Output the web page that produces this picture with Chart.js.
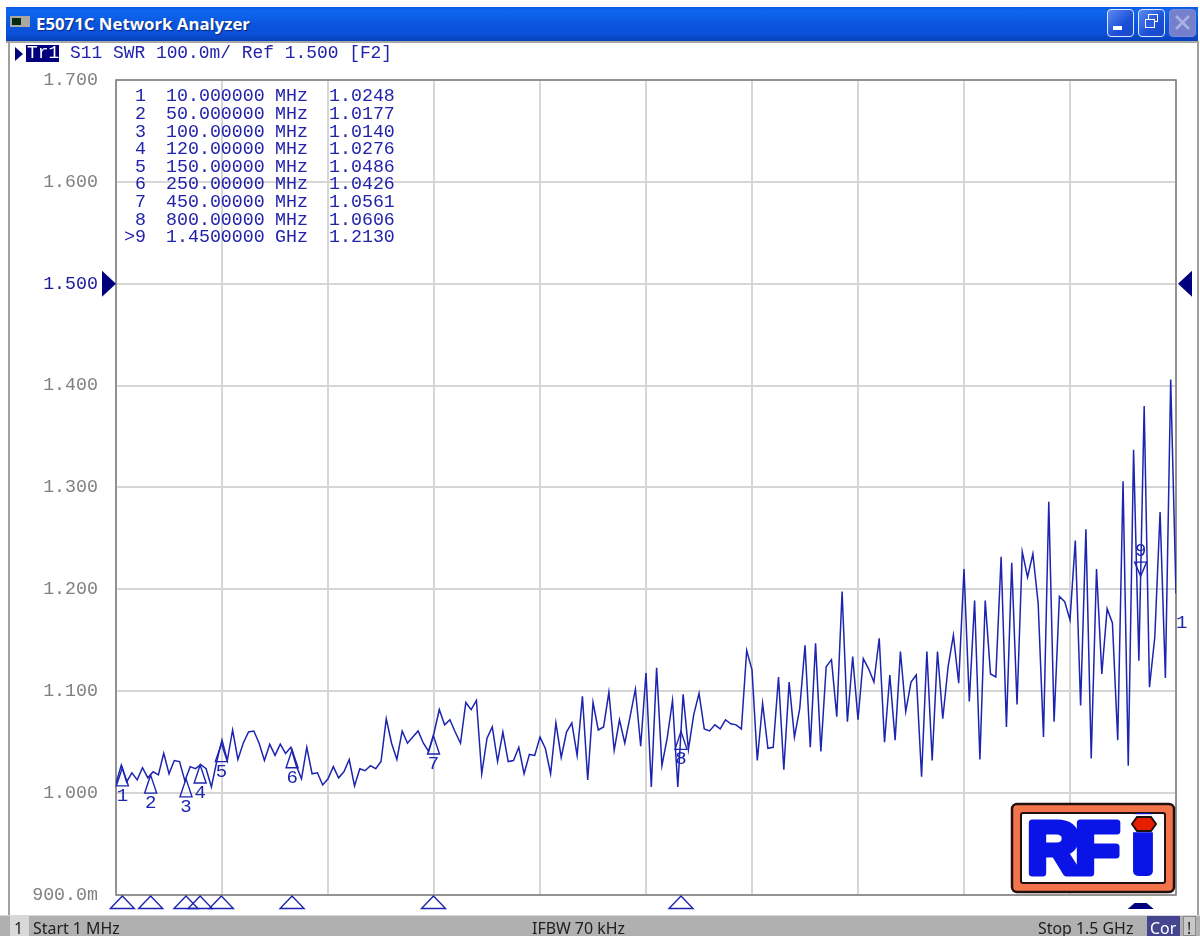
<!DOCTYPE html>
<html>
<head>
<meta charset="utf-8">
<title>E5071C Network Analyzer</title>
<script src="https://cdn.jsdelivr.net/npm/chart.js@4"></script>
<style>
html, body { margin: 0; padding: 0; background: #fff; overflow: hidden; }
#page { position: relative; width: 1200px; height: 936px; overflow: hidden; filter: blur(0.4px); }
#page div, #page span { position: absolute; white-space: pre; }
canvas { position: absolute; left: 0; top: 0; }
#titlebar { left: 6px; top: 7px; width: 1192px; height: 34px; background: linear-gradient(#0a5ae0 0%, #0f68f0 12%, #0a55de 50%, #0a50d8 80%, #0840b8 100%); }
#titletext { left: 36px; top: 12px; color: #fff; font: bold 16.8px "Open Sans", sans-serif; text-shadow: 1px 1px 1px #0a2a80; }
#icon { left: 10px; top: 16px; width: 20px; height: 11px; background: #a8a8a0; }
#iconscreen { left: 12px; top: 18px; width: 9px; height: 7px; background: #062a10; }
.winbtn { top: 9px; width: 25px; height: 26px; border: 1px solid #dfe8ff; border-radius: 4px; background: linear-gradient(135deg, #5c8cf0, #1a4fd8 60%, #1a48c8); }
#closebtn { background: #7480cc; border-color: #7f8ad2; }
#leftline { left: 8px; top: 41px; width: 2px; height: 874px; background: #a0a0a0; }
#rightline { left: 1197px; top: 41px; width: 2px; height: 874px; background: #a0a0a0; }
#topline { left: 6px; top: 41px; width: 1192px; height: 2px; background: #a8a8a8; }
.hdr { font: 17.9px "Liberation Mono", monospace; color: #2222aa; }
#trtri { left: 15px; top: 47px; width: 0; height: 0; border-left: 8px solid #00007f; border-top: 7px solid transparent; border-bottom: 7px solid transparent; }
#trbox { left: 26px; top: 45px; width: 33px; height: 17px; background: #00007f; }
#status { left: 0; top: 915px; width: 1200px; height: 21px; background: #b0b0b0; border-top: 1px solid #d8d8d8; box-sizing: border-box; }
.st { top: 919px; font: 15.9px "Noto Sans", sans-serif; color: #202020; line-height: 18px; }
#chbox { left: 10px; top: 916px; width: 19px; height: 20px; background: #d8d8d8; }
#corbox { left: 1147px; top: 916px; width: 33px; height: 20px; background: #45458f; }
#warnbox { left: 1183px; top: 916px; width: 13px; height: 20px; background: #c8c8c8; border: 1px solid #888; box-sizing: border-box; }
#logo { position: absolute; left: 1010px; top: 802px; }
</style>
</head>
<body>
<div id="page">
  <div id="titlebar"></div>
  <div id="icon"></div><div id="iconscreen"></div>
  <div id="titletext">E5071C Network Analyzer</div>
  <div class="winbtn" style="left:1107px"></div>
  <div style="left:1113px;top:26px;width:9px;height:4px;background:#fff"></div>
  <div class="winbtn" style="left:1138px"></div>
  <div style="left:1148px;top:14px;width:8px;height:6px;border:1px solid #fff"></div>
  <div style="left:1145px;top:19px;width:8px;height:7px;border:1px solid #fff;background:#2a5ce0"></div>
  <div class="winbtn" id="closebtn" style="left:1169px"></div>
  <svg style="position:absolute;left:1175px;top:15px" width="15" height="15"><path d="M1 1L14 14M14 1L1 14" stroke="#aab2e2" stroke-width="2.5"/></svg>
  <div id="topline"></div><div id="leftline"></div><div id="rightline"></div>

  <div id="trtri"></div>
  <div id="trbox"></div>
  <div class="hdr" style="left:27px;top:43px;color:#fff">Tr1</div>
  <div class="hdr" style="left:70px;top:43px">S11 SWR 100.0m/ Ref 1.500 [F2]</div>

  <div id="status"></div>
  <div id="chbox"></div>
  <div class="st" style="left:14px">1</div>
  <div class="st" style="left:33px">Start 1 MHz</div>
  <div class="st" style="left:532px">IFBW 70 kHz</div>
  <div class="st" style="left:1038px">Stop 1.5 GHz</div>
  <div id="corbox"></div>
  <div class="st" style="left:1150px;color:#fff">Cor</div>
  <div id="warnbox"></div>
  <div class="st" style="left:1187px">!</div>

  <canvas id="myChart" width="1200" height="936"></canvas>

  <svg id="logo" width="166" height="92" viewBox="0 0 166 92">
    <rect x="2" y="2" width="162" height="88" rx="5" fill="#f2744a" stroke="#201010" stroke-width="2.5"/>
    <rect x="11" y="11" width="144" height="70" rx="2" fill="#fff" stroke="#201010" stroke-width="2"/>
    <text font-family="Liberation Sans" font-weight="bold" font-size="72" fill="#0a14e6" stroke="#0a14e6" stroke-width="7" stroke-linejoin="round"><tspan x="17.5" y="70.5">R</tspan><tspan x="65.5" y="70.5">F</tspan><tspan x="123" y="69" stroke-width="10">i</tspan></text>
    <rect x="118" y="12.2" width="32" height="18" fill="#fff"/>
    <polygon points="122,22 127,15 141,15 146,22 141,29 127,29" fill="#e81e00" stroke="#201010" stroke-width="2"/>
  </svg>
</div>

<script>
// sweep frequencies in MHz, 201 points
var freqs = [
  1, 8.5, 16, 23.5, 31, 38.5, 46, 53.5, 61, 68.5,
  76, 83.4, 90.9, 98.4, 105.9, 113.4, 120.9, 128.4, 135.9, 143.4,
  150.9, 158.4, 165.9, 173.4, 180.9, 188.4, 195.9, 203.4, 210.9, 218.4,
  225.9, 233.3, 240.8, 248.3, 255.8, 263.3, 270.8, 278.3, 285.8, 293.3,
  300.8, 308.3, 315.8, 323.3, 330.8, 338.3, 345.8, 353.3, 360.8, 368.3,
  375.8, 383.2, 390.7, 398.2, 405.7, 413.2, 420.7, 428.2, 435.7, 443.2,
  450.7, 458.2, 465.7, 473.2, 480.7, 488.2, 495.7, 503.2, 510.7, 518.2,
  525.7, 533.1, 540.6, 548.1, 555.6, 563.1, 570.6, 578.1, 585.6, 593.1,
  600.6, 608.1, 615.6, 623.1, 630.6, 638.1, 645.6, 653.1, 660.6, 668.1,
  675.6, 683, 690.5, 698, 705.5, 713, 720.5, 728, 735.5, 743,
  750.5, 758, 765.5, 773, 780.5, 788, 795.5, 803, 810.5, 818,
  825.5, 832.9, 840.4, 847.9, 855.4, 862.9, 870.4, 877.9, 885.4, 892.9,
  900.4, 907.9, 915.4, 922.9, 930.4, 937.9, 945.4, 952.9, 960.4, 967.9,
  975.4, 982.8, 990.3, 997.8, 1005.3, 1012.8, 1020.3, 1027.8, 1035.3, 1042.8,
  1050.3, 1057.8, 1065.3, 1072.8, 1080.3, 1087.8, 1095.3, 1102.8, 1110.3, 1117.8,
  1125.3, 1132.7, 1140.2, 1147.7, 1155.2, 1162.7, 1170.2, 1177.7, 1185.2, 1192.7,
  1200.2, 1207.7, 1215.2, 1222.7, 1230.2, 1237.7, 1245.2, 1252.7, 1260.2, 1267.7,
  1275.2, 1282.6, 1290.1, 1297.6, 1305.1, 1312.6, 1320.1, 1327.6, 1335.1, 1342.6,
  1350.1, 1357.6, 1365.1, 1372.6, 1380.1, 1387.6, 1395.1, 1402.6, 1410.1, 1417.6,
  1425.1, 1432.5, 1440, 1447.5, 1455, 1462.5, 1470, 1477.5, 1485, 1492.5,
  1500
];

// trace values
var swr = [
  1.0095, 1.0275, 1.011, 1.020, 1.013, 1.025, 1.015, 1.021, 1.018, 1.039,
  1.019, 1.032, 1.031, 1.012, 1.026, 1.024, 1.028, 1.024, 1.006, 1.031,
  1.052, 1.032, 1.062, 1.033, 1.049, 1.060, 1.061, 1.049, 1.032, 1.048,
  1.037, 1.048, 1.039, 1.045, 1.027, 1.014, 1.045, 1.019, 1.020, 1.008,
  1.014, 1.026, 1.015, 1.021, 1.033, 1.007, 1.024, 1.022, 1.027, 1.024,
  1.031, 1.073, 1.049, 1.033, 1.061, 1.049, 1.055, 1.061, 1.049, 1.041,
  1.059, 1.082, 1.067, 1.072, 1.060, 1.049, 1.089, 1.082, 1.091, 1.019,
  1.054, 1.065, 1.031, 1.060, 1.031, 1.032, 1.045, 1.019, 1.038, 1.037,
  1.055, 1.044, 1.019, 1.069, 1.035, 1.060, 1.069, 1.037, 1.095, 1.013,
  1.089, 1.062, 1.065, 1.099, 1.042, 1.072, 1.049, 1.075, 1.102, 1.046,
  1.118, 1.006, 1.123, 1.027, 1.054, 1.091, 1.006, 1.097, 1.043, 1.077,
  1.098, 1.063, 1.061, 1.067, 1.063, 1.072, 1.068, 1.067, 1.063, 1.140,
  1.121, 1.032, 1.088, 1.044, 1.045, 1.114, 1.023, 1.109, 1.055, 1.083,
  1.145, 1.045, 1.147, 1.041, 1.124, 1.131, 1.075, 1.198, 1.070, 1.134,
  1.072, 1.132, 1.122, 1.109, 1.152, 1.050, 1.116, 1.052, 1.139, 1.080,
  1.109, 1.116, 1.016, 1.139, 1.032, 1.139, 1.073, 1.124, 1.155, 1.108,
  1.220, 1.090, 1.189, 1.033, 1.189, 1.117, 1.114, 1.232, 1.065, 1.226,
  1.087, 1.237, 1.212, 1.235, 1.186, 1.055, 1.286, 1.070, 1.193, 1.188,
  1.170, 1.248, 1.086, 1.259, 1.034, 1.220, 1.117, 1.181, 1.167, 1.052,
  1.306, 1.027, 1.337, 1.130, 1.380, 1.104, 1.153, 1.276, 1.113, 1.406,
  1.196
];

// graticule
var gridFreqs = [1, 150.9, 300.8, 450.7, 600.6, 750.5, 900.4, 1050.3, 1200.2, 1350.1, 1500];
var yTicks = [0.9, 1.0, 1.1, 1.2, 1.3, 1.4, 1.5, 1.6, 1.7];
var yTickLabels = ['900.0m', '1.000', '1.100', '1.200', '1.300', '1.400', '1.500', '1.600', '1.700'];
var refLevel = 1.5;

// markers
var markerNames = ['1', '2', '3', '4', '5', '6', '7', '8', '9'];
var markerFreqs = [10, 50, 100, 120, 150, 250, 450, 800, 1450];
var markerValues = [1.0248, 1.0177, 1.0140, 1.0276, 1.0486, 1.0426, 1.0561, 1.0606, 1.2130];
var markerRowNames = ['1', '2', '3', '4', '5', '6', '7', '8', '>9'];
var markerFreqText = ['10.000000', '50.000000', '100.00000', '120.00000', '150.00000', '250.00000', '450.00000', '800.00000', '1.4500000'];
var markerUnitText = ['MHz', 'MHz', 'MHz', 'MHz', 'MHz', 'MHz', 'MHz', 'MHz', 'GHz'];
var markerValueText = ['1.0248', '1.0177', '1.0140', '1.0276', '1.0486', '1.0426', '1.0561', '1.0606', '1.2130'];
var activeMarker = 8;

var traceColor = '#1c24b0';
var monoFont = '"Liberation Mono", monospace';

var points = [];
for (var i = 0; i < freqs.length; i++) {
    points.push({ x: freqs[i], y: swr[i] });
}

function tri(ctx, x1, y1, x2, y2, x3, y3) {
    ctx.beginPath();
    ctx.moveTo(x1, y1);
    ctx.lineTo(x2, y2);
    ctx.lineTo(x3, y3);
    ctx.closePath();
}

var analyzerPlugin = {
    id: 'analyzer',
    beforeDatasetsDraw: function(chart) {
        var a = chart.chartArea;
        var ctx = chart.ctx;
        ctx.save();
        ctx.strokeStyle = '#7c7c7c';
        ctx.lineWidth = 1.5;
        ctx.strokeRect(a.left, a.top, a.right - a.left, a.bottom - a.top);
        ctx.restore();
    },
    afterDraw: function(chart) {
        var ctx = chart.ctx;
        var xs = chart.scales.x;
        var ys = chart.scales.y;
        var a = chart.chartArea;
        ctx.save();

        // marker table
        ctx.fillStyle = '#2222aa';
        ctx.font = '18.3px ' + monoFont;
        ctx.textBaseline = 'middle';
        for (var r = 0; r < markerRowNames.length; r++) {
            var rowY = 96.5 + r * 17.6;
            ctx.textAlign = 'right';
            ctx.fillText(markerRowNames[r], 146, rowY);
            ctx.textAlign = 'left';
            ctx.fillText(markerFreqText[r], 166, rowY);
            ctx.fillText(markerUnitText[r], 275, rowY);
            ctx.fillText(markerValueText[r], 329, rowY);
        }

        // markers on the trace and along the bottom edge
        ctx.strokeStyle = traceColor;
        ctx.fillStyle = traceColor;
        ctx.lineWidth = 1.4;
        ctx.font = '19px ' + monoFont;
        ctx.textAlign = 'center';
        for (var m = 0; m < markerFreqs.length; m++) {
            var mx = xs.getPixelForValue(markerFreqs[m]);
            var my = ys.getPixelForValue(markerValues[m]);
            if (m == activeMarker) {
                tri(ctx, mx, my, mx - 6, my - 14, mx + 6, my - 14);
                ctx.stroke();
                ctx.fillText(markerNames[m], mx, my - 25);
                ctx.fillStyle = '#00007f';
                ctx.beginPath();
                ctx.moveTo(mx - 6, 903);
                ctx.lineTo(mx + 6, 903);
                ctx.lineTo(mx + 13, 909);
                ctx.lineTo(mx - 13, 909);
                ctx.closePath();
                ctx.fill();
                ctx.fillStyle = traceColor;
            } else {
                tri(ctx, mx, my, mx - 6, my + 18, mx + 6, my + 18);
                ctx.stroke();
                ctx.fillText(markerNames[m], mx, my + 28);
                tri(ctx, mx, 896, mx - 12, 908.5, mx + 12, 908.5);
                ctx.stroke();
            }
        }

        // reference level arrows
        var refY = ys.getPixelForValue(refLevel);
        ctx.fillStyle = '#00007f';
        tri(ctx, 102, refY - 13, 102, refY + 13, 116, refY);
        ctx.fill();
        tri(ctx, 1192, refY - 13, 1192, refY + 13, 1178, refY);
        ctx.fill();

        // trace number at the right edge
        ctx.fillStyle = traceColor;
        ctx.textAlign = 'left';
        ctx.font = '19px ' + monoFont;
        ctx.fillText('1', a.right + 0, 623);
        ctx.restore();
    }
};

var ctx = document.getElementById('myChart').getContext('2d');
var chart = new Chart(ctx, {
    type: 'line',
    data: {
        datasets: [{
            label: 'S11 SWR',
            data: points,
            borderColor: traceColor,
            borderWidth: 1.5,
            pointRadius: 0,
            tension: 0,
            fill: false
        }]
    },
    options: {
        responsive: false,
        animation: false,
        parsing: false,
        layout: { padding: { left: 0, right: 24, top: 80, bottom: 41 } },
        plugins: { legend: { display: false }, tooltip: { enabled: false } },
        scales: {
            x: {
                type: 'linear',
                min: 1,
                max: 1500,
                afterBuildTicks: function(scale) {
                    scale.ticks = gridFreqs.map(function(f) { return { value: f }; });
                },
                ticks: { display: false },
                grid: { color: '#d6d6d6', lineWidth: 2, drawTicks: false },
                border: { display: false }
            },
            y: {
                type: 'linear',
                min: 0.9,
                max: 1.7,
                afterBuildTicks: function(scale) {
                    scale.ticks = yTicks.map(function(v) { return { value: v }; });
                },
                afterFit: function(scale) { scale.width = 116; },
                ticks: {
                    padding: 18,
                    font: { family: 'Liberation Mono', size: 18.3 },
                    color: function(c) { return c.tick.value == refLevel ? '#1a1a9a' : '#808080'; },
                    callback: function(value, index) { return yTickLabels[index]; }
                },
                grid: { color: '#d6d6d6', lineWidth: 2, drawTicks: false },
                border: { display: false }
            }
        }
    },
    plugins: [analyzerPlugin]
});
</script>
</body>
</html>
